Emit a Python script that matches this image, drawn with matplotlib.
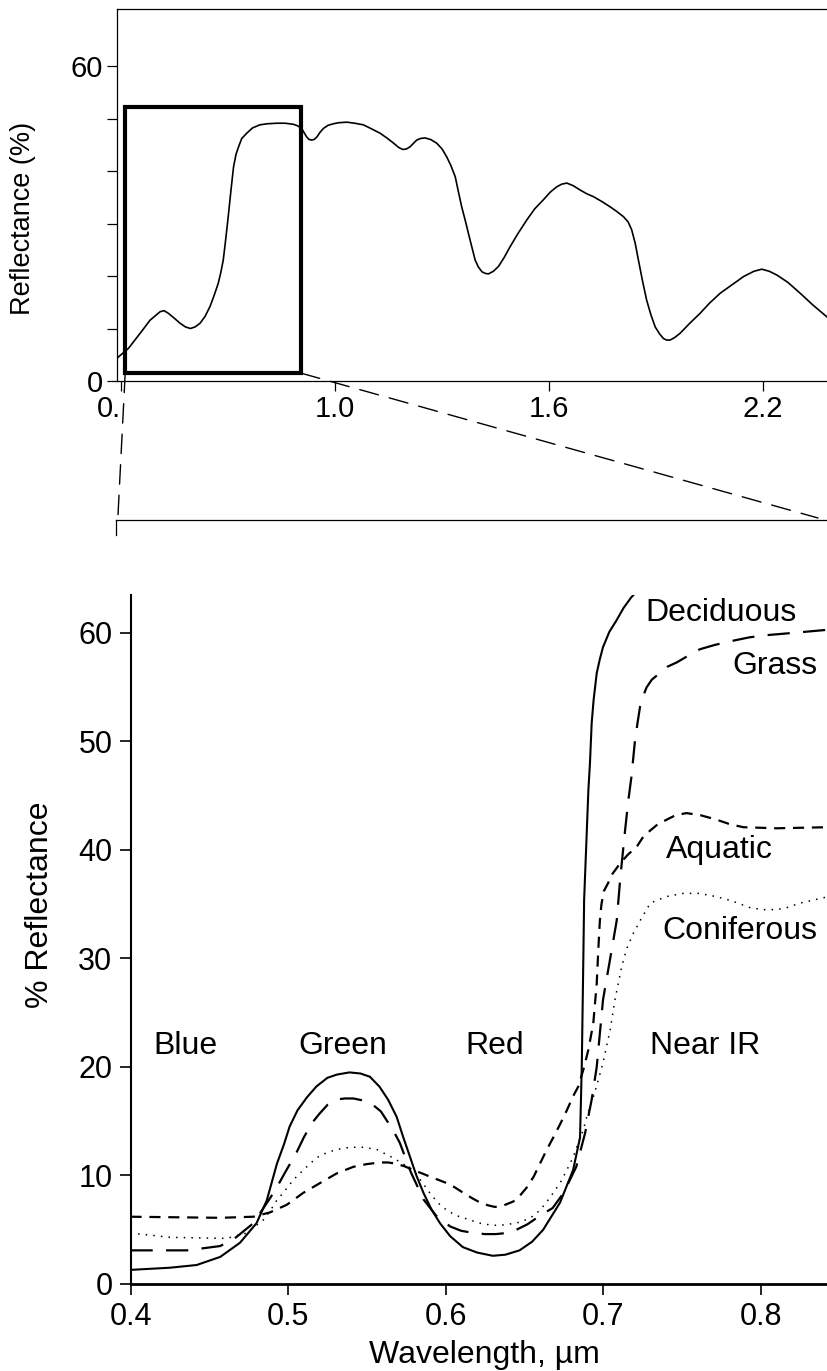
import matplotlib
matplotlib.use("Agg")
import matplotlib.pyplot as plt
from matplotlib.patches import Rectangle, ConnectionPatch
from matplotlib.lines import Line2D

plt.rcParams['font.family'] = ['Liberation Sans', 'DejaVu Sans']

# full spectrum (upper panel), wavelength in um / reflectance in %
full_wl = [0.387, 0.420, 0.453, 0.481, 0.509, 0.520, 0.532, 0.548, 0.565, 0.580,
           0.594, 0.607, 0.621, 0.635, 0.649, 0.660, 0.672, 0.679, 0.686, 0.693,
           0.700, 0.708, 0.715, 0.722, 0.729, 0.738, 0.752, 0.768, 0.789, 0.810,
           0.836, 0.860, 0.883, 0.895, 0.906, 0.913, 0.920, 0.927, 0.934, 0.941,
           0.949, 0.958, 0.967, 0.980, 0.995, 1.010, 1.033, 1.055, 1.079, 1.100,
           1.126, 1.145, 1.164, 1.178, 1.190, 1.200, 1.210, 1.229, 1.240, 1.252,
           1.268, 1.285, 1.300, 1.313, 1.325, 1.337, 1.346, 1.355, 1.365, 1.374,
           1.384, 1.393, 1.402, 1.412, 1.421, 1.430, 1.444, 1.458, 1.474, 1.491,
           1.514, 1.538, 1.560, 1.584, 1.604, 1.622, 1.636, 1.650, 1.668, 1.687,
           1.705, 1.725, 1.748, 1.771, 1.790, 1.809, 1.822, 1.832, 1.842, 1.851,
           1.862, 1.874, 1.886, 1.898, 1.910, 1.921, 1.930, 1.940, 1.953, 1.968,
           1.995, 2.024, 2.050, 2.080, 2.115, 2.146, 2.175, 2.197, 2.218, 2.239,
           2.270, 2.305, 2.340, 2.380]
full_refl = [4.3, 6.2, 9.1, 11.6, 13.2, 13.4, 12.9, 12.0, 11.0, 10.3,
             10.0, 10.3, 11.0, 12.3, 14.2, 16.2, 18.6, 20.6, 23.0, 27.0,
             31.3, 36.5, 40.8, 43.2, 44.6, 46.2, 47.2, 48.2, 48.8, 49.0,
             49.1, 49.1, 48.9, 48.6, 48.1, 47.3, 46.5, 46.0, 45.9, 46.0,
             46.5, 47.4, 48.1, 48.7, 49.0, 49.2, 49.3, 49.1, 48.8, 48.1,
             47.2, 46.3, 45.3, 44.5, 44.1, 44.2, 44.6, 45.9, 46.2, 46.3,
             46.0, 45.3, 44.2, 42.7, 41.0, 38.9, 36.0, 33.2, 30.6, 28.1,
             25.4, 23.0, 21.7, 20.8, 20.5, 20.4, 20.9, 21.8, 23.5, 25.6,
             28.2, 30.7, 32.8, 34.5, 36.0, 37.0, 37.5, 37.7, 37.2, 36.4,
             35.7, 35.1, 34.2, 33.2, 32.3, 31.3, 30.3, 28.8, 26.2, 23.0,
             19.2, 15.4, 12.6, 10.3, 9.0, 8.1, 7.8, 7.8, 8.3, 9.1,
             11.0, 12.9, 14.8, 16.7, 18.4, 19.9, 20.9, 21.3, 20.9, 20.2,
             18.8, 16.7, 14.5, 12.2]

# zoom box on the upper panel
box_wl = [0.411, 0.904]
box_refl = [1.5, 52.2]

# lower panel: four vegetation types
decid_wl = [0.400, 0.425, 0.442, 0.457, 0.4695, 0.480, 0.4865, 0.493, 0.4975, 0.501,
            0.506, 0.512, 0.518, 0.525, 0.531, 0.539, 0.546, 0.552, 0.558, 0.5635,
            0.569, 0.573, 0.5775, 0.5815, 0.586, 0.591, 0.5965, 0.603, 0.611, 0.620,
            0.630, 0.638, 0.647, 0.655, 0.662, 0.6727, 0.681, 0.6854, 0.6865, 0.6875,
            0.688, 0.6895, 0.6907, 0.6917, 0.6928, 0.694, 0.696, 0.698, 0.700, 0.704,
            0.7087, 0.713, 0.718, 0.726]
decid = [1.3, 1.5, 1.75, 2.5, 3.8, 5.6, 7.7, 11.1, 12.9, 14.5,
         16.0, 17.2, 18.2, 19.0, 19.3, 19.5, 19.4, 19.1, 18.2, 17.0,
         15.4, 13.6, 11.7, 10.0, 8.4, 6.9, 5.6, 4.4, 3.4, 2.9,
         2.6, 2.7, 3.1, 3.9, 5.0, 7.5, 10.5, 13.5, 20.0, 30.0,
         35.4, 41.0, 45.5, 48.0, 51.7, 53.8, 56.3, 57.6, 58.7, 60.1,
         61.2, 62.3, 63.3, 64.5]

grass_wl = [0.400, 0.436, 0.457, 0.467, 0.478, 0.489, 0.494, 0.499, 0.505, 0.510,
            0.515, 0.520, 0.525, 0.531, 0.536, 0.5415, 0.548, 0.554, 0.559, 0.563,
            0.567, 0.571, 0.578, 0.586, 0.594, 0.603, 0.610, 0.618, 0.625, 0.632,
            0.639, 0.645, 0.652, 0.660, 0.668, 0.675, 0.683, 0.6886, 0.6928, 0.696,
            0.700, 0.7055, 0.7087, 0.711, 0.714, 0.716, 0.718, 0.7203, 0.722, 0.7235,
            0.7255, 0.7277, 0.731, 0.736, 0.741, 0.747, 0.754, 0.7615, 0.771, 0.783,
            0.793, 0.804, 0.820, 0.843]
grass = [3.1, 3.1, 3.5, 4.3, 5.6, 8.0, 9.2, 10.5, 12.0, 13.5,
         14.8, 15.7, 16.5, 17.0, 17.1, 17.1, 16.9, 16.5, 15.9, 15.0,
         14.1, 13.0, 10.3, 7.8, 6.3, 5.3, 4.9, 4.7, 4.6, 4.6,
         4.7, 5.0, 5.5, 6.3, 7.0, 8.4, 10.8, 13.9, 17.0, 20.0,
         26.2, 30.8, 33.5, 37.5, 41.8, 44.5, 46.7, 50.1, 51.8, 53.2,
         54.2, 55.0, 55.7, 56.3, 56.9, 57.3, 57.9, 58.5, 58.9, 59.3,
         59.6, 59.8, 60.0, 60.3]

aquatic_wl = [0.400, 0.457, 0.478, 0.4886, 0.4992, 0.5097, 0.5203, 0.531, 0.5415, 0.550,
              0.5584, 0.5635, 0.568, 0.574, 0.5795, 0.585, 0.590, 0.6008, 0.606, 0.6113,
              0.617, 0.622, 0.627, 0.6314, 0.637, 0.643, 0.647, 0.6516, 0.656, 0.660,
              0.664, 0.6684, 0.673, 0.677, 0.681, 0.6843, 0.688, 0.6907, 0.6938, 0.696,
              0.697, 0.698, 0.699, 0.7005, 0.7034, 0.706, 0.711, 0.716, 0.7214, 0.725,
              0.730, 0.735, 0.7405, 0.746, 0.753, 0.762, 0.772, 0.780, 0.789, 0.810,
              0.843]
aquatic = [6.2, 6.1, 6.2, 6.6, 7.3, 8.4, 9.3, 10.2, 10.8, 11.05,
           11.2, 11.2, 11.1, 10.85, 10.5, 10.2, 9.9, 9.3, 8.9, 8.4,
           7.9, 7.5, 7.25, 7.1, 7.25, 7.6, 8.1, 8.9, 9.9, 11.1,
           12.3, 13.5, 14.8, 16.0, 17.3, 18.2, 20.0, 21.6, 24.0, 27.7,
           30.8, 33.5, 35.0, 36.2, 37.0, 37.8, 38.8, 39.6, 40.3, 41.1,
           41.8, 42.4, 42.8, 43.2, 43.4, 43.2, 42.8, 42.4, 42.1, 42.0,
           42.1]

conif_wl = [0.400, 0.425, 0.461, 0.4737, 0.4843, 0.4885, 0.4928, 0.498, 0.5034, 0.509,
            0.514, 0.519, 0.5246, 0.531, 0.5394, 0.548, 0.5563, 0.567, 0.5795, 0.585,
            0.590, 0.595, 0.6008, 0.607, 0.6155, 0.622, 0.630, 0.638, 0.6473, 0.654,
            0.660, 0.666, 0.6727, 0.677, 0.6811, 0.684, 0.6875, 0.690, 0.6938, 0.697,
            0.700, 0.7045, 0.7076, 0.7118, 0.715, 0.7192, 0.724, 0.730, 0.740, 0.751,
            0.761, 0.772, 0.782, 0.793, 0.801, 0.810, 0.817, 0.825, 0.834, 0.843]
conif = [4.7, 4.3, 4.2, 4.7, 5.9, 6.7, 7.7, 8.6, 9.6, 10.4,
         11.1, 11.7, 12.1, 12.4, 12.6, 12.6, 12.4, 11.6, 10.5, 9.4,
         8.4, 7.5, 6.8, 6.3, 5.9, 5.6, 5.4, 5.45, 5.7, 6.1,
         6.8, 7.9, 9.3, 10.5, 11.7, 12.9, 14.2, 15.6, 17.2, 18.8,
         20.4, 23.4, 26.2, 29.2, 30.9, 32.3, 33.6, 35.1, 35.7, 36.0,
         36.0, 35.7, 35.3, 34.7, 34.5, 34.5, 34.7, 35.1, 35.4, 35.7]

band_names = ['Blue', 'Green', 'Red', 'Near IR']
band_x = [0.4346, 0.535, 0.6314, 0.7647]


fig = plt.figure(figsize=(8.27, 13.71), dpi=100)

##upper panel
ax1 = fig.add_axes([0.14148, 0.72210, 0.85852, 0.27134])
ax1.plot(full_wl, full_refl, color='black', lw=1.2, solid_joinstyle='round')
ax1.add_patch(Rectangle((box_wl[0], box_refl[0]), box_wl[1] - box_wl[0], box_refl[1] - box_refl[0],
                        fill=False, ec='black', lw=3.0, zorder=5))
ax1.set_xlim(0.388, 2.380)
ax1.set_ylim(0, 70.86)
ax1.spines['right'].set_visible(False)
for s in ['left', 'bottom', 'top']:
    ax1.spines[s].set_linewidth(0.9)
ax1.set_xticks([0.4, 1.0, 1.6, 2.2])
ax1.set_xticklabels(['0.', '1.0', '1.6', '2.2'])
ax1.get_xticklabels()[0].set_ha('right')
ax1.set_yticks([0, 10, 20, 30, 40, 50, 60])
ax1.set_yticklabels(['0', '', '', '', '', '', '60'])
ax1.tick_params(direction='out', length=7, width=0.9, labelsize=21, pad=3)
ax1.set_ylabel('Reflectance (%)', fontsize=19.5, va='center')
ax1.yaxis.set_label_coords(-0.132, 0.438)

##lower panel
ax2 = fig.add_axes([0.1578, 0.06346, 0.8422, 0.50255])
ax2.plot(decid_wl, decid, color='black', lw=1.5, solid_joinstyle='round')
ax2.plot(grass_wl, grass, color='black', lw=1.6, dashes=(10, 6), dash_joinstyle='round')
ax2.plot(aquatic_wl, aquatic, color='black', lw=1.6, dashes=(5, 3.5), dash_joinstyle='round')
ax2.plot(conif_wl, conif, color='black', lw=1.1, dashes=(1, 4))
ax2.set_xlim(0.4, 0.8422)
ax2.set_ylim(0, 63.5)
ax2.spines['right'].set_visible(False)
ax2.spines['top'].set_visible(False)
ax2.spines['left'].set_linewidth(1.5)
ax2.spines['bottom'].set_linewidth(2.0)
ax2.set_xticks([0.4, 0.5, 0.6, 0.7, 0.8])
ax2.set_xticklabels(['0.4', '0.5', '0.6', '0.7', '0.8'])
ax2.set_yticks([0, 10, 20, 30, 40, 50, 60])
ax2.tick_params(direction='out', length=8, width=1.2, labelsize=22, pad=5)
ax2.set_ylabel('% Reflectance', fontsize=23, va='center')
ax2.yaxis.set_label_coords(-0.13, 0.55)
ax2.set_xlabel('Wavelength, \u00b5m', fontsize=23, va='center')
ax2.xaxis.set_label_coords(0.5075, -0.103)

ax2.text(0.775, 61.8, 'Deciduous', fontsize=23, ha='center', va='center')
ax2.text(0.836, 57.0, 'Grass', fontsize=23, ha='right', va='center')
ax2.text(0.7736, 40.0, 'Aquatic', fontsize=23, ha='center', va='center')
ax2.text(0.836, 32.5, 'Coniferous', fontsize=23, ha='right', va='center')
for name, bx in zip(band_names, band_x):
    ax2.text(bx, 21.9, name, fontsize=23, ha='center', va='center')

##zoom connectors and frame line between panels
y_sep = 1 - 520 / 1371
fig.add_artist(Line2D([116 / 827, 1.0], [y_sep, y_sep], transform=fig.transFigure,
                      color='black', lw=0.9))
fig.add_artist(Line2D([116 / 827, 116 / 827], [y_sep, y_sep - 15 / 1371], transform=fig.transFigure,
                      color='black', lw=0.9))
con1 = ConnectionPatch(xyA=(box_wl[0], box_refl[0]), coordsA=ax1.transData,
                       xyB=(118 / 827, 1 - 515 / 1371), coordsB='figure fraction',
                       color='black', lw=1.0, linestyle=(0, (14, 8)))
con2 = ConnectionPatch(xyA=(box_wl[1], box_refl[0]), coordsA=ax1.transData,
                       xyB=(818 / 827, 1 - 518 / 1371), coordsB='figure fraction',
                       color='black', lw=1.0, linestyle=(0, (14, 8)))
fig.add_artist(con1)
fig.add_artist(con2)

plt.savefig('out.png', dpi=100)
